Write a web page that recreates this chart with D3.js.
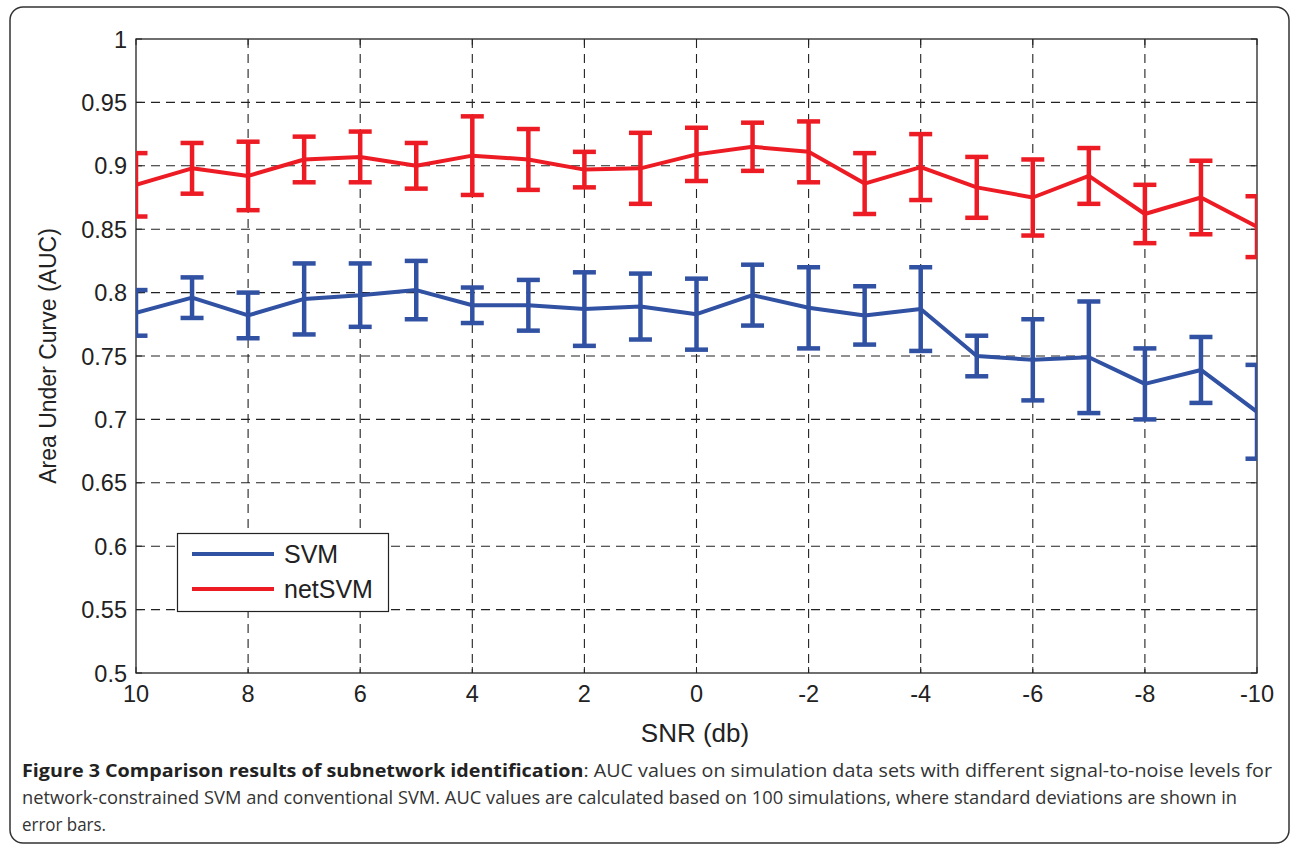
<!DOCTYPE html>
<html>
<head>
<meta charset="utf-8">
<script src="https://cdn.jsdelivr.net/npm/d3@7"></script>
<style>
  html, body { margin: 0; padding: 0; background: #fff; }
  svg { display: block; }
</style>
</head>
<body>
<svg id="chart" width="1292" height="846"></svg>
<script>
// ---- Data ----
const snr = [10, 9, 8, 7, 6, 5, 4, 3, 2, 1, 0, -1, -2, -3, -4, -5, -6, -7, -8, -9, -10];
const svmMean = [0.784, 0.796, 0.782, 0.795, 0.798, 0.802, 0.790, 0.790, 0.787, 0.789, 0.783, 0.798, 0.788, 0.782, 0.787, 0.750, 0.747, 0.749, 0.728, 0.739, 0.706];
const svmSd   = [0.018, 0.016, 0.018, 0.028, 0.025, 0.023, 0.014, 0.020, 0.029, 0.026, 0.028, 0.024, 0.032, 0.023, 0.033, 0.016, 0.032, 0.044, 0.028, 0.026, 0.037];
const netMean = [0.885, 0.898, 0.892, 0.905, 0.907, 0.900, 0.908, 0.905, 0.897, 0.898, 0.909, 0.915, 0.911, 0.886, 0.899, 0.883, 0.875, 0.892, 0.862, 0.875, 0.852];
const netSd   = [0.025, 0.020, 0.027, 0.018, 0.020, 0.018, 0.031, 0.024, 0.014, 0.028, 0.021, 0.019, 0.024, 0.024, 0.026, 0.024, 0.030, 0.022, 0.023, 0.029, 0.024];
const xTicks = [10, 8, 6, 4, 2, 0, -2, -4, -6, -8, -10];
const yTicks = [0.5, 0.55, 0.6, 0.65, 0.7, 0.75, 0.8, 0.85, 0.9, 0.95, 1];
const yTickLabels = ["0.5", "0.55", "0.6", "0.65", "0.7", "0.75", "0.8", "0.85", "0.9", "0.95", "1"];
const seriesNames = ["SVM", "netSVM"];
const seriesColors = ["#3151a3", "#ed1c24"];

// ---- Layout ----
const svg = d3.select("#chart");
const L = 136, R = 1257, T = 39, B = 673;
const x = d3.scaleLinear().domain([10, -10]).range([L, R]);
const y = d3.scaleLinear().domain([0.5, 1]).range([B, T]);

// outer rounded frame
svg.append("rect").attr("x", 10).attr("y", 7).attr("width", 1279).attr("height", 836)
  .attr("rx", 13).attr("fill", "none").attr("stroke", "#333").attr("stroke-width", 1.5);

// clip
svg.append("defs").append("clipPath").attr("id", "plotclip")
  .append("rect").attr("x", L).attr("y", T).attr("width", R - L).attr("height", B - T);

// grid
const grid = svg.append("g");
grid.selectAll("line.gx").data(xTicks.slice(1, -1)).join("line")
  .attr("x1", d => x(d)).attr("x2", d => x(d)).attr("y1", T).attr("y2", B)
  .attr("stroke", "#222").attr("stroke-width", 1.1).attr("stroke-dasharray", "9,6");
grid.selectAll("line.gy").data(yTicks.slice(1, -1)).join("line")
  .attr("y1", d => y(d)).attr("y2", d => y(d)).attr("x1", L).attr("x2", R)
  .attr("stroke", "#222").attr("stroke-width", 1.1).attr("stroke-dasharray", "9,6");

// inward ticks on all sides
const tk = svg.append("g").attr("stroke", "#222").attr("stroke-width", 1);
xTicks.forEach(v => {
  tk.append("line").attr("x1", x(v)).attr("x2", x(v)).attr("y1", B).attr("y2", B - 6);
  tk.append("line").attr("x1", x(v)).attr("x2", x(v)).attr("y1", T).attr("y2", T + 6);
});
yTicks.forEach(v => {
  tk.append("line").attr("x1", L).attr("x2", L + 6).attr("y1", y(v)).attr("y2", y(v));
  tk.append("line").attr("x1", R).attr("x2", R - 6).attr("y1", y(v)).attr("y2", y(v));
});

// frame
svg.append("rect").attr("x", L).attr("y", T).attr("width", R - L).attr("height", B - T)
  .attr("fill", "none").attr("stroke", "#222").attr("stroke-width", 1.3);

// tick labels
const font = "Liberation Sans, Arial, sans-serif";
svg.append("g").selectAll("text").data(xTicks).join("text")
  .attr("x", d => x(d)).attr("y", 702).attr("text-anchor", "middle")
  .attr("font-family", font).attr("font-size", 23.5).attr("fill", "#222")
  .text(d => String(d));
svg.append("g").selectAll("text").data(yTicks).join("text")
  .attr("x", 127).attr("y", d => y(d) + 8.5).attr("text-anchor", "end")
  .attr("font-family", font).attr("font-size", 23.5).attr("fill", "#222")
  .text((d, i) => yTickLabels[i]);

// axis titles
svg.append("text").attr("x", 695).attr("y", 742).attr("text-anchor", "middle")
  .attr("font-family", font).attr("font-size", 26).attr("fill", "#222").text("SNR (db)");
svg.append("text").attr("transform", "translate(56,356) rotate(-90)").attr("text-anchor", "middle")
  .attr("font-family", font).attr("font-size", 23).attr("fill", "#222").text("Area Under Curve (AUC)");

// series
const plot = svg.append("g").attr("clip-path", "url(#plotclip)");
const series = [
  { means: svmMean, sds: svmSd, color: seriesColors[0] },
  { means: netMean, sds: netSd, color: seriesColors[1] }
];
const line = d3.line().x((d, i) => x(snr[i])).y(d => y(d));
const cap = 11.5;
series.forEach(s => {
  plot.append("path").datum(s.means).attr("d", line)
    .attr("fill", "none").attr("stroke", s.color).attr("stroke-width", 4).attr("stroke-linejoin", "round");
  const g = plot.append("g").attr("stroke", s.color).attr("stroke-width", 4.5);
  s.means.forEach((m, i) => {
    const cx = x(snr[i]), yt = y(m + s.sds[i]), yb = y(m - s.sds[i]);
    g.append("line").attr("x1", cx).attr("x2", cx).attr("y1", yt).attr("y2", yb);
    g.append("line").attr("x1", cx - cap).attr("x2", cx + cap).attr("y1", yt).attr("y2", yt);
    g.append("line").attr("x1", cx - cap).attr("x2", cx + cap).attr("y1", yb).attr("y2", yb);
  });
});

// legend
const lg = svg.append("g");
lg.append("rect").attr("x", 177.5).attr("y", 533.5).attr("width", 211).attr("height", 78)
  .attr("fill", "#fff").attr("stroke", "#222").attr("stroke-width", 1.2);
seriesNames.forEach((n, i) => {
  const yy = 554 + i * 35;
  lg.append("line").attr("x1", 192).attr("x2", 274).attr("y1", yy).attr("y2", yy)
    .attr("stroke", seriesColors[i]).attr("stroke-width", 4);
  lg.append("text").attr("x", 284).attr("y", yy + 9).attr("font-family", font)
    .attr("font-size", 25).attr("fill", "#222").text(n);
});

// caption
const cfont = "Open Sans, Noto Sans, sans-serif";
const c1 = svg.append("text").attr("x", 22).attr("y", 777).attr("font-family", cfont)
  .attr("font-size", 18.5).attr("fill", "#333")
  .attr("textLength", 1250).attr("lengthAdjust", "spacingAndGlyphs");
c1.append("tspan").attr("font-weight", "bold").attr("fill", "#222").text("Figure 3 Comparison results of subnetwork identification");
c1.append("tspan").text(": AUC values on simulation data sets with different signal-to-noise levels for");
svg.append("text").attr("x", 22).attr("y", 804).attr("font-family", cfont)
  .attr("font-size", 18.5).attr("fill", "#333")
  .attr("textLength", 1215).attr("lengthAdjust", "spacingAndGlyphs")
  .text("network-constrained SVM and conventional SVM. AUC values are calculated based on 100 simulations, where standard deviations are shown in");
svg.append("text").attr("x", 22).attr("y", 831).attr("font-family", cfont)
  .attr("font-size", 18.5).attr("fill", "#333")
  .attr("textLength", 84).attr("lengthAdjust", "spacingAndGlyphs").text("error bars.");
</script>
</body>
</html>
